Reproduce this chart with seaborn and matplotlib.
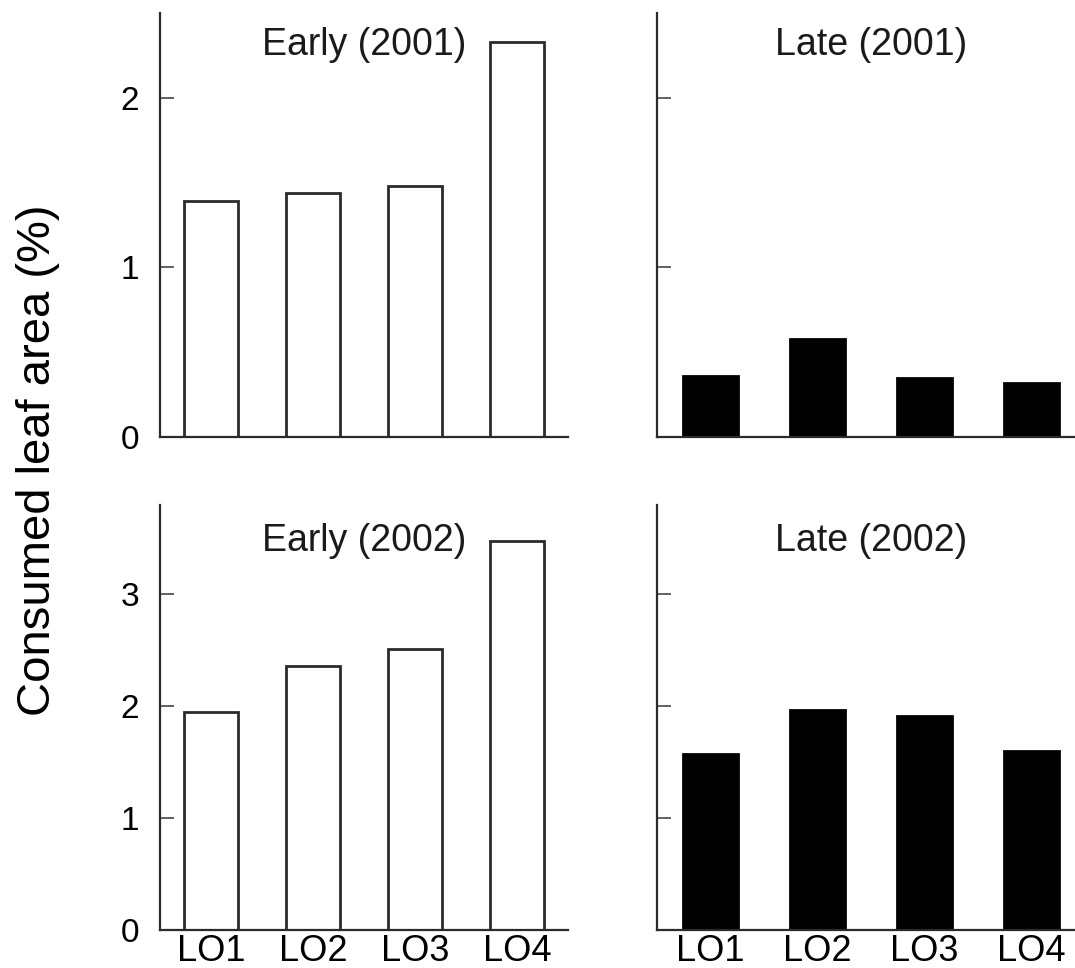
import matplotlib
matplotlib.use("Agg")
import matplotlib.pyplot as plt
import seaborn as sns
import pandas as pd

categories = ["LO1", "LO2", "LO3", "LO4"]
early_2001 = [1.39, 1.44, 1.48, 2.33]
late_2001 = [0.36, 0.58, 0.35, 0.32]
early_2002 = [1.95, 2.36, 2.51, 3.48]
late_2002 = [1.57, 1.97, 1.91, 1.60]
titles = ["Early (2001)", "Late (2001)", "Early (2002)", "Late (2002)"]
ylabel = "Consumed leaf area (%)"

sns.set_theme(style="ticks")
plt.rcParams["font.family"] = ["Liberation Sans", "DejaVu Sans"]

W, H = 1075, 968
fig = plt.figure(figsize=(W / 100, H / 100), dpi=100)

def fr(x0, x1, ytop, ybot):
    return [x0 / W, 1 - ybot / H, (x1 - x0) / W, (ybot - ytop) / H]

specs = [
    (early_2001, fr(160, 568, 13, 437), "white", 2.5, [0, 1, 2], True, False, 0.925),
    (late_2001, fr(657, 1085, 13, 437), "black", 2.5, [0, 1, 2], False, False, 0.925),
    (early_2002, fr(160, 568, 505, 930), "white", 3.8, [0, 1, 2, 3], True, True, 0.915),
    (late_2002, fr(657, 1085, 505, 930), "black", 3.8, [0, 1, 2, 3], False, True, 0.915),
]

ink = "#2b2b2b"
for (vals, rect, fill, ymax, yt, ylab, xlab, ty), title in zip(specs, titles):
    ax = fig.add_axes(rect)
    df = pd.DataFrame({"site": categories, "value": vals})
    sns.barplot(data=df, x="site", y="value", ax=ax, color=fill,
                edgecolor=ink if fill == "white" else "black",
                linewidth=2.0, width=0.52, saturation=1)
    ax.set_xlim(-0.5, 3.5)
    ax.set_ylim(0, ymax)
    ax.set_yticks(yt)
    ax.set_xlabel("")
    ax.set_ylabel("")
    for s in ["top", "right"]:
        ax.spines[s].set_visible(False)
    for s in ["left", "bottom"]:
        ax.spines[s].set_color(ink)
        ax.spines[s].set_linewidth(1.6)
    ax.tick_params(axis="y", direction="in", length=10, width=1.3, color="#555555",
                   pad=15, labelsize=24, labelcolor="black")
    ax.tick_params(axis="x", length=0, pad=3, labelsize=26, labelcolor="black")
    if not ylab:
        ax.set_yticklabels([])
    if not xlab:
        ax.set_xticklabels([])
    ax.text(0.5, ty, title, transform=ax.transAxes, ha="center", va="center",
            fontsize=27, color="#1a1a1a")
    ax.set_facecolor("white")

fig.text(38 / W, 1 - 460 / H, ylabel, rotation=90, ha="center", va="center",
         fontsize=34, color="black")

fig.savefig("out.png", dpi=100, facecolor="white")
